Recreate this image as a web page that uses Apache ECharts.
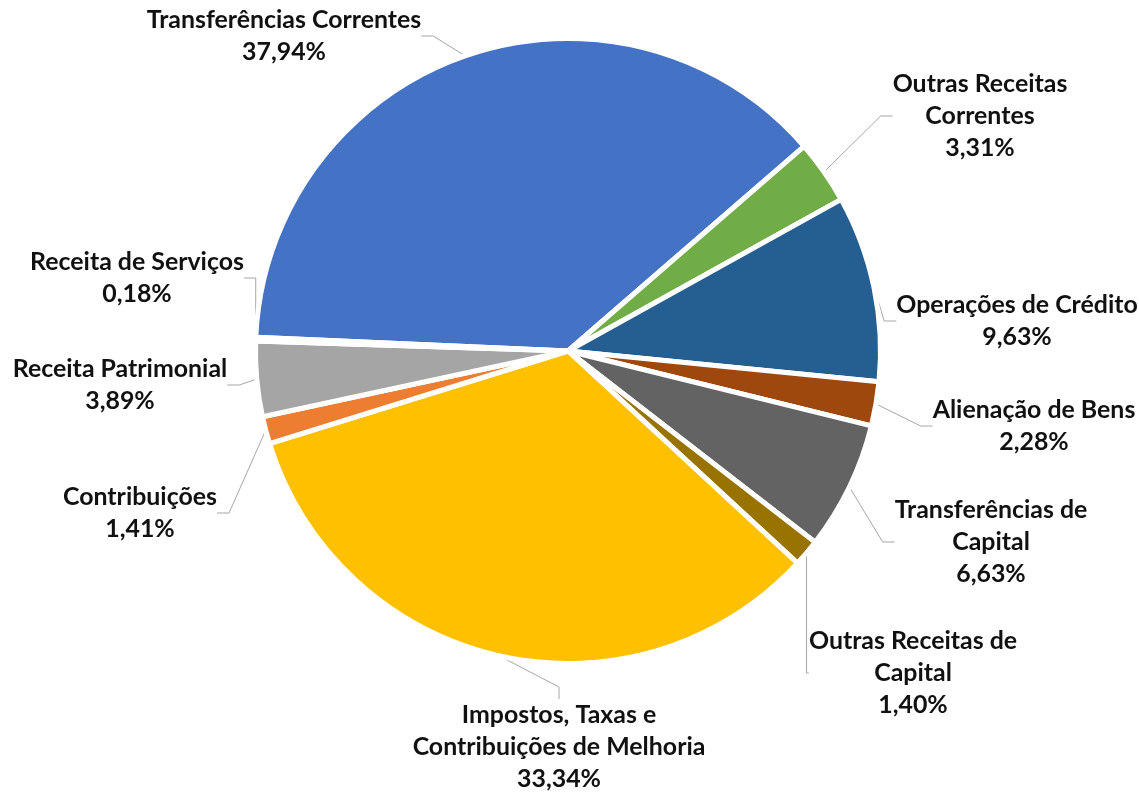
<!DOCTYPE html>
<html><head><meta charset="utf-8">
<script src="https://cdn.jsdelivr.net/npm/echarts@6/dist/echarts.min.js"></script>
<style>html,body{margin:0;padding:0;background:#fff}#chart{width:1139px;height:793px}</style>
</head><body><div id="chart"></div>
<script>
const categories = ['Transferências Correntes','Outras Receitas Correntes','Operações de Crédito','Alienação de Bens','Transferências de Capital','Outras Receitas de Capital','Impostos, Taxas e Contribuições de Melhoria','Contribuições','Receita Patrimonial','Receita de Serviços'];
const labelText = ['Transferências Correntes','Outras Receitas\nCorrentes','Operações de Crédito','Alienação de Bens','Transferências de\nCapital','Outras Receitas de\nCapital','Impostos, Taxas e\nContribuições de Melhoria','Contribuições','Receita Patrimonial','Receita de Serviços'];
const values = [37.94, 3.31, 9.63, 2.28, 6.63, 1.40, 33.34, 1.41, 3.89, 0.18];
const colors = ['#4472C4','#70AD47','#255E91','#9E480E','#636363','#997300','#FFC000','#ED7D31','#A5A5A5','#5B9BD5'];
const labelPos = [[284,36],[980,116],[1017,321],[1034,426],[991,542],[913,673],[559,747],[140,513],[120,385],[137,278]];

const FONT = 'Lato';
function fitSize(text, target){
  const c = document.createElement('canvas').getContext('2d');
  c.font = 'bold 100px ' + FONT;
  return 100 * target / c.measureText(text).width;
}
const fs = Math.round(fitSize('Transferências Correntes', 275) * 10) / 10;

const chart = echarts.init(document.getElementById('chart'), null, {renderer:'canvas'});
chart.setOption({
  animation: false,
  backgroundColor: '#fff',
  series: [{
    type: 'pie',
    center: [568, 351],
    radius: 312.5,
    startAngle: 177.5,
    clockwise: true,
    avoidLabelOverlap: false,
    itemStyle: { borderColor: '#fff', borderWidth: 5 },
    label: {
      show: true,
      position: 'outside',
      fontFamily: FONT,
      fontWeight: 'bold',
      fontSize: fs,
      lineHeight: 32,
      color: '#111',
      align: 'center',
      formatter: p => labelText[p.dataIndex] + '\n' + p.value.toFixed(2).replace('.', ',') + '%'
    },
    labelLine: { show: true, length: 10, length2: 12, smooth: false, lineStyle: { color: '#A6A6A6', width: 1 } },
    labelLayout: params => {
      const p = labelPos[params.dataIndex];
      return { x: p[0], y: p[1], align: 'center', verticalAlign: 'middle' };
    },
    data: categories.map((c, i) => ({ name: c, value: values[i], itemStyle: { color: colors[i] } }))
  }]
});
</script></body></html>
